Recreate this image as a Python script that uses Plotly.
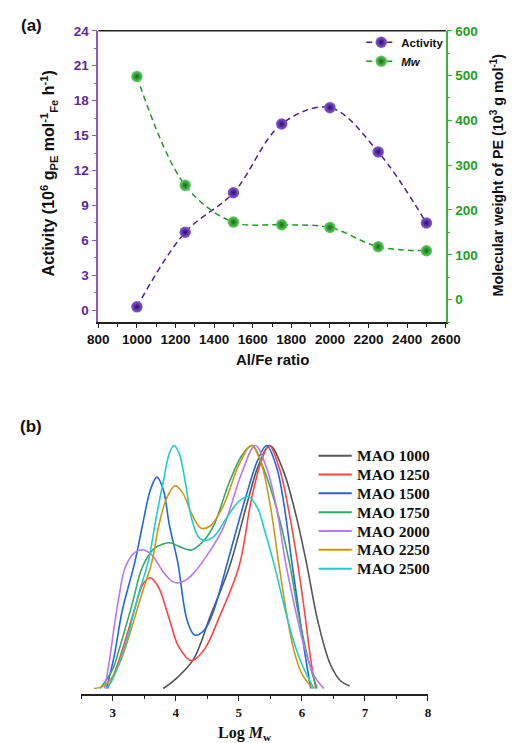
import plotly.graph_objects as go

# ---------------- Panel (a) data ----------------
al_fe = [1000, 1250, 1500, 1750, 2000, 2250, 2500]
activity = [0.3, 6.7, 10.1, 16.0, 17.4, 13.6, 7.5]
mw = [498, 255, 173, 167, 161, 118, 109]

# ---------------- Panel (b) data ----------------
series_names = ["MAO 1000", "MAO 1250", "MAO 1500", "MAO 1750", "MAO 2000", "MAO 2250", "MAO 2500"]
series_colors = ["#555555", "#ff4444", "#2266dd", "#33aa66", "#bb77ee", "#cc9911", "#22cccc"]

logm_1000 = [3.80, 4.00, 4.28, 4.55, 4.85, 5.15, 5.30, 5.49, 5.70, 5.90, 6.07, 6.25, 6.45, 6.62, 6.76]
val_1000 = [0.0, 0.04, 0.12, 0.30, 0.50, 0.78, 0.91, 1.0, 0.90, 0.72, 0.52, 0.28, 0.10, 0.03, 0.01]

logm_1250 = [2.92, 3.05, 3.20, 3.35, 3.48, 3.59, 3.72, 3.88, 4.05, 4.25, 4.45, 4.70, 5.00, 5.20, 5.35, 5.48, 5.65, 5.80, 5.93, 6.05, 6.14, 6.22]
val_1250 = [0.0, 0.08, 0.20, 0.33, 0.43, 0.456, 0.42, 0.30, 0.17, 0.114, 0.16, 0.30, 0.50, 0.78, 0.93, 1.0, 0.90, 0.72, 0.52, 0.30, 0.12, 0.0]

logm_1500 = [2.90, 3.02, 3.15, 3.35, 3.47, 3.60, 3.70, 3.80, 3.90, 4.03, 4.18, 4.30, 4.45, 4.60, 4.82, 5.10, 5.30, 5.44, 5.60, 5.72, 5.84, 5.95, 6.05, 6.14]
val_1500 = [0.0, 0.13, 0.32, 0.52, 0.67, 0.82, 0.87, 0.82, 0.67, 0.52, 0.28, 0.22, 0.24, 0.32, 0.52, 0.78, 0.94, 1.0, 0.91, 0.75, 0.52, 0.32, 0.14, 0.0]

logm_1750 = [2.80, 3.00, 3.10, 3.30, 3.47, 3.65, 3.80, 3.91, 4.05, 4.25, 4.45, 4.60, 4.85, 5.05, 5.21, 5.40, 5.60, 5.80, 5.95, 6.10, 6.24]
val_1750 = [0.0, 0.08, 0.16, 0.34, 0.50, 0.575, 0.595, 0.60, 0.585, 0.57, 0.61, 0.67, 0.85, 0.96, 1.0, 0.90, 0.74, 0.52, 0.30, 0.12, 0.0]

logm_2000 = [2.87, 2.95, 3.02, 3.10, 3.20, 3.35, 3.49, 3.62, 3.80, 3.95, 4.05, 4.18, 4.30, 4.50, 4.75, 5.05, 5.26, 5.45, 5.60, 5.74, 5.90, 6.05, 6.20, 6.35]
val_2000 = [0.0, 0.12, 0.25, 0.38, 0.50, 0.56, 0.57, 0.55, 0.48, 0.44, 0.435, 0.45, 0.48, 0.55, 0.66, 0.89, 1.0, 0.90, 0.74, 0.52, 0.32, 0.16, 0.05, 0.0]

logm_2250 = [2.70, 2.85, 3.00, 3.15, 3.30, 3.45, 3.62, 3.73, 3.85, 3.99, 4.12, 4.25, 4.40, 4.55, 4.75, 5.00, 5.20, 5.35, 5.50, 5.63, 5.75, 5.87, 6.00, 6.17]
val_2250 = [0.0, 0.01, 0.05, 0.13, 0.25, 0.38, 0.52, 0.67, 0.78, 0.835, 0.80, 0.72, 0.66, 0.67, 0.75, 0.92, 1.0, 0.93, 0.75, 0.52, 0.32, 0.16, 0.06, 0.0]

logm_2500 = [2.90, 3.00, 3.20, 3.40, 3.56, 3.70, 3.80, 3.90, 3.97, 4.05, 4.15, 4.25, 4.37, 4.49, 4.62, 4.80, 5.00, 5.15, 5.30, 5.42, 5.55, 5.70, 5.85, 6.00, 6.19]
val_2500 = [0.0, 0.04, 0.18, 0.38, 0.52, 0.72, 0.85, 0.97, 1.0, 0.97, 0.85, 0.70, 0.62, 0.61, 0.63, 0.70, 0.77, 0.79, 0.74, 0.64, 0.52, 0.36, 0.21, 0.10, 0.0]

series_x = [logm_1000, logm_1250, logm_1500, logm_1750, logm_2000, logm_2250, logm_2500]
series_y = [val_1000, val_1250, val_1500, val_1750, val_2000, val_2250, val_2500]

W, H = 512, 743
def px(xp):
    return xp / W
def py(yp):
    return 1 - yp / H

PURPLE = "#4b1f96"
PURPLE_TXT = "#5b2a9e"
PURPLE_AX = "#8a5cc4"
GREEN = "#1e9a1e"
GREEN_TXT = "#22a022"
GREEN_AX = "#3cb43c"

fig = go.Figure()

fig.add_trace(go.Scatter(
    x=al_fe, y=activity, name="<b>Activity</b>", mode="lines+markers",
    line=dict(color=PURPLE, width=1.5, dash="6px,4px", shape="spline", smoothing=1.0),
    marker=dict(size=11.5, color="#8a5fd0", gradient=dict(type="radial", color="#2e0a78"),
                line=dict(width=0)),
    xaxis="x", yaxis="y", legend="legend"))

fig.add_trace(go.Scatter(
    x=al_fe, y=mw, name="<b><i>Mw</i></b>", mode="lines+markers",
    line=dict(color=GREEN, width=1.5, dash="6px,4px", shape="spline", smoothing=1.0),
    marker=dict(size=11.5, color="#66d066", gradient=dict(type="radial", color="#0a6e0a"),
                line=dict(width=0)),
    xaxis="x", yaxis="y2", legend="legend"))

for name, col, xs, ys in zip(series_names, series_colors, series_x, series_y):
    fig.add_trace(go.Scatter(
        x=xs, y=ys, name=name, mode="lines", showlegend=False,
        line=dict(color=col, width=1.6, shape="spline", smoothing=1.0),
        xaxis="x2", yaxis="y3"))

SANS = "Liberation Sans, Arial"
SERIF = "Liberation Serif, Times New Roman"

fig.update_layout(
    width=W, height=H,
    margin=dict(l=0, r=0, t=0, b=0),
    paper_bgcolor="white", plot_bgcolor="white",
    showlegend=True,
    xaxis=dict(domain=[px(92), px(458)], anchor="y", range=[800, 2600],
               tick0=800, dtick=200, ticks="outside", ticklen=4, tickwidth=1.3,
               tickcolor="#222", showline=True, linecolor="#222", linewidth=1.5,
               showgrid=False, zeroline=False,
               tickfont=dict(family=SANS, size=13.5, color="#111", weight="bold"),
               minor=dict(dtick=100, ticks="outside", ticklen=3, tickcolor="#222", tickwidth=1.2)),
    yaxis=dict(domain=[py(318), py(24)], anchor="x", range=[-1, 24],
               tick0=0, dtick=3, ticks="outside", ticklen=5, tickwidth=1.3,
               tickcolor=PURPLE_AX, showline=True, linecolor=PURPLE_AX, linewidth=1.5,
               showgrid=False, zeroline=False,
               tickfont=dict(family=SANS, size=13.5, color=PURPLE_TXT, weight="bold"),
               minor=dict(dtick=1.5, ticks="outside", ticklen=3, tickcolor=PURPLE_AX, tickwidth=1.2)),
    yaxis2=dict(anchor="x", overlaying="y", side="right", range=[-50, 600],
                tick0=0, dtick=100, ticks="outside", ticklen=5, tickwidth=1.3,
                tickcolor=GREEN_AX, showline=True, linecolor=GREEN_AX, linewidth=1.5,
                showgrid=False, zeroline=False,
                tickfont=dict(family=SANS, size=13.5, color=GREEN_TXT, weight="bold"),
                minor=dict(dtick=50, ticks="outside", ticklen=3, tickcolor=GREEN_AX, tickwidth=1.2)),
    xaxis2=dict(domain=[px(74), px(439.3)], anchor="y3", range=[2.5, 8],
                tick0=3, dtick=1, ticks="outside", ticklen=5, tickwidth=1.3,
                tickcolor="#222", showline=True, linecolor="#222", linewidth=1.5,
                showgrid=False, zeroline=False,
                tickfont=dict(family=SERIF, size=13, color="#111", weight="bold"),
                minor=dict(dtick=0.5, ticks="outside", ticklen=3, tickcolor="#222", tickwidth=1.2)),
    yaxis3=dict(domain=[py(694), py(428)], anchor="x2", range=[-0.0245, 1.06],
                visible=False, showgrid=False, zeroline=False),
    legend=dict(x=px(369), y=py(21), xanchor="left", yanchor="top",
                bgcolor="rgba(0,0,0,0)", borderwidth=0,
                font=dict(family=SANS, size=11.5, color="#111"),
                tracegroupgap=0, itemwidth=30),
)

# top border of panel (a)
fig.add_shape(type="line", xref="x domain", yref="y domain", x0=0, x1=1, y0=1, y1=1,
              line=dict(color="#222", width=1.5))

# legend of panel (b), drawn as line samples and text labels
for i, (name, col) in enumerate(zip(series_names, series_colors)):
    yy = py(453 + 19 * i)
    fig.add_shape(type="line", xref="paper", yref="paper", x0=px(324), x1=px(359), y0=yy, y1=yy,
                  line=dict(color=col, width=2))
    fig.add_annotation(x=px(362), y=yy, xref="paper", yref="paper", showarrow=False,
                       xanchor="left", yanchor="middle", text="<b>" + name + "</b>",
                       font=dict(family=SERIF, size=15.5, color="#111"))

def ann(x, y, text, size, angle=0, family=SANS):
    fig.add_annotation(x=px(x), y=py(y), xref="paper", yref="paper", showarrow=False,
                       xanchor="center", yanchor="middle", textangle=angle, text=text,
                       font=dict(size=size, family=family, color="#111"))

ann(21.5, 19, "<b>(a)</b>", 17)
ann(21.5, 423, "<b>(b)</b>", 17)
ann(40, 168, "<b>Activity (10<sup>6</sup> g<sub>PE</sub> mol<sup>-1</sup><sub>Fe</sub> h<sup>-1</sup>)</b>", 16, -90)
ann(512, 170, "<b>Molecular weight of PE (10<sup>3</sup> g mol<sup>-1</sup>)</b>", 14.3, -90)
ann(275, 356, "<b>Al/Fe ratio</b>", 15)
ann(247, 733, "<b>Log <i>M</i><sub>w</sub></b>", 16, 0, SERIF)

fig.write_html("out.html")
